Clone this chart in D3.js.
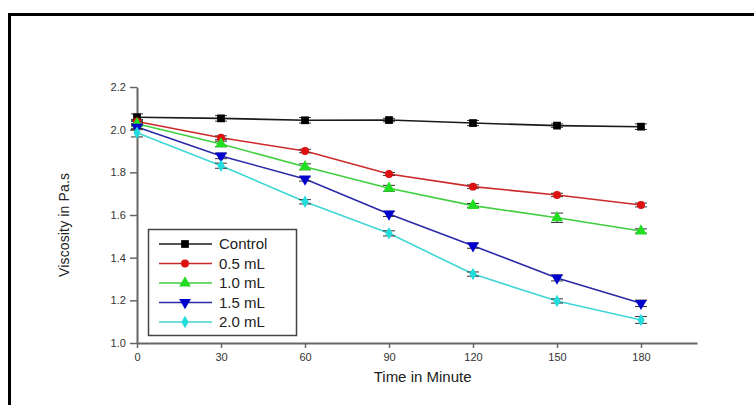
<!DOCTYPE html>
<html>
<head>
<meta charset="utf-8">
<script src="https://cdn.jsdelivr.net/npm/d3@7"></script>
<style>
  body { margin: 0; background: #fff; }
  svg { display: block; font-family: "Liberation Sans", Arial, sans-serif; }
</style>
</head>
<body>
<div id="chart"></div>
<script>
// Data
const times = [0, 30, 60, 90, 120, 150, 180];
const seriesNames = ["Control", "0.5 mL", "1.0 mL", "1.5 mL", "2.0 mL"];
const control = [2.058, 2.053, 2.044, 2.045, 2.031, 2.019, 2.014];
const ml05 = [2.038, 1.962, 1.900, 1.792, 1.733, 1.694, 1.647];
const ml10 = [2.028, 1.933, 1.826, 1.725, 1.644, 1.587, 1.525];
const ml15 = [2.012, 1.877, 1.769, 1.605, 1.456, 1.305, 1.186];
const ml20 = [1.986, 1.831, 1.662, 1.514, 1.323, 1.197, 1.108];
const controlErr = [0.016, 0.013, 0.013, 0.008, 0.012, 0.008, 0.013];
const ml05Err = [0.010, 0.009, 0.008, 0.007, 0.008, 0.008, 0.009];
const ml10Err = [0.010, 0.013, 0.014, 0.014, 0.010, 0.022, 0.010];
const ml15Err = [0.012, 0.013, 0.010, 0.012, 0.012, 0.014, 0.015];
const ml20Err = [0.020, 0.012, 0.010, 0.012, 0.010, 0.010, 0.016];
const xTicks = [0, 30, 60, 90, 120, 150, 180];
const yTicks = [1.0, 1.2, 1.4, 1.6, 1.8, 2.0, 2.2];

const seriesValues = [control, ml05, ml10, ml15, ml20];
const seriesErrors = [controlErr, ml05Err, ml10Err, ml15Err, ml20Err];
const lineColors = ["#1a1a1a", "#cc2a2a", "#3fcf3f", "#2a2aa8", "#3fd6d6"];
const markColors = ["#000000", "#dd1111", "#22dd22", "#0000cc", "#22dddd"];
const symbols = [d3.symbolSquare, d3.symbolCircle, d3.symbolTriangle, d3.symbolTriangle, d3.symbolDiamond];
const symbolSizes = [60, 50, 60, 60, 45];
const symbolRot = [0, 0, 0, 180, 0];

const series = seriesNames.map((name, i) => ({
    name: name,
    points: times.map((t, j) => ({ t: t, v: seriesValues[i][j], e: seriesErrors[i][j] }))
}));

const W = 754, H = 405;
const margin = { top: 87, right: 57, bottom: 62, left: 137 },
    width = W - margin.left - margin.right,
    height = H - margin.top - margin.bottom;

const root = d3.select("#chart")
    .append("svg")
    .attr("width", W)
    .attr("height", H);

// outer frame (top + left visible)
root.append("path")
    .attr("d", `M9.5,${H} L9.5,14.5 L${W},14.5`)
    .attr("fill", "none")
    .attr("stroke", "#000")
    .attr("stroke-width", 3);

const svg = root.append("g")
    .attr("transform", `translate(${margin.left},${margin.top})`);

const x = d3.scaleLinear().domain([0, 200]).range([0, width]);
const y = d3.scaleLinear().domain([1.0, 2.2]).range([height, 0]);

// X Axis
const xAxis = svg.append("g")
    .attr("transform", `translate(0,${height})`)
    .call(d3.axisBottom(x).tickValues(xTicks).tickSize(5).tickSizeOuter(0).tickFormat(d3.format("d")));

// Y Axis
const yAxis = svg.append("g")
    .call(d3.axisLeft(y).tickValues(yTicks).tickSize(7).tickSizeOuter(0).tickFormat(d3.format(".1f")));

[xAxis, yAxis].forEach(a => {
    a.select(".domain").attr("stroke", "#666").attr("stroke-width", 2);
    a.selectAll(".tick line").attr("stroke", "#666").attr("stroke-width", 1.5);
    a.selectAll(".tick text").attr("fill", "#333").style("font-size", "11px");
});
xAxis.selectAll(".tick text").attr("dy", "0.9em");
yAxis.selectAll(".tick text").attr("dx", "-0.1em");

// Axis titles
svg.append("text")
    .attr("x", x(102))
    .attr("y", height + 39)
    .attr("text-anchor", "middle")
    .attr("fill", "#222")
    .style("font-size", "15px")
    .text("Time in Minute");

svg.append("text")
    .attr("transform", "rotate(-90)")
    .attr("x", -(225 - margin.top))
    .attr("y", -68)
    .attr("text-anchor", "middle")
    .attr("fill", "#222")
    .style("font-size", "14px")
    .attr("textLength", 104)
    .text("Viscosity in Pa.s");

const line = d3.line().x(d => x(d.t)).y(d => y(d.v));

// lines
svg.selectAll(".series-line")
    .data(series)
    .enter().append("path")
    .attr("class", "series-line")
    .attr("fill", "none")
    .attr("stroke", (d, i) => lineColors[i])
    .attr("stroke-width", 1.6)
    .attr("d", d => line(d.points));

// error bars
series.forEach((s, i) => {
    const g = svg.append("g").attr("stroke", "#333").attr("stroke-width", 1);
    s.points.forEach(p => {
        const cx = x(p.t), y1 = y(p.v + p.e), y2 = y(p.v - p.e);
        g.append("line").attr("x1", cx).attr("x2", cx).attr("y1", y1).attr("y2", y2);
        g.append("line").attr("x1", cx - 6).attr("x2", cx + 6).attr("y1", y1).attr("y2", y1);
        g.append("line").attr("x1", cx - 6).attr("x2", cx + 6).attr("y1", y2).attr("y2", y2);
    });
});

// markers
series.forEach((s, i) => {
    svg.selectAll(".mark" + i)
        .data(s.points)
        .enter().append("path")
        .attr("class", "mark" + i)
        .attr("d", d3.symbol().type(symbols[i]).size(symbolSizes[i]))
        .attr("transform", d => `translate(${x(d.t)},${y(d.v)}) rotate(${symbolRot[i]})`)
        .attr("fill", markColors[i]);
});

// Legend
const legend = svg.append("g")
    .attr("transform", `translate(${148 - margin.left},${229 - margin.top})`);

legend.append("rect")
    .attr("x", 0.5).attr("y", 0.5)
    .attr("width", 148).attr("height", 106)
    .attr("fill", "#fff")
    .attr("stroke", "#444")
    .attr("stroke-width", 1.5);

seriesNames.forEach((name, i) => {
    const ly = 15 + i * 19.5;
    legend.append("line")
        .attr("x1", 11).attr("x2", 64)
        .attr("y1", ly).attr("y2", ly)
        .attr("stroke", lineColors[i])
        .attr("stroke-width", 1.6);
    legend.append("path")
        .attr("d", d3.symbol().type(symbols[i]).size(symbolSizes[i]))
        .attr("transform", `translate(37,${ly}) rotate(${symbolRot[i]})`)
        .attr("fill", markColors[i]);
    legend.append("text")
        .attr("x", 71)
        .attr("y", ly)
        .attr("dy", "0.36em")
        .attr("fill", "#222")
        .style("font-size", "15px")
        .text(name);
});
</script>
</body>
</html>
